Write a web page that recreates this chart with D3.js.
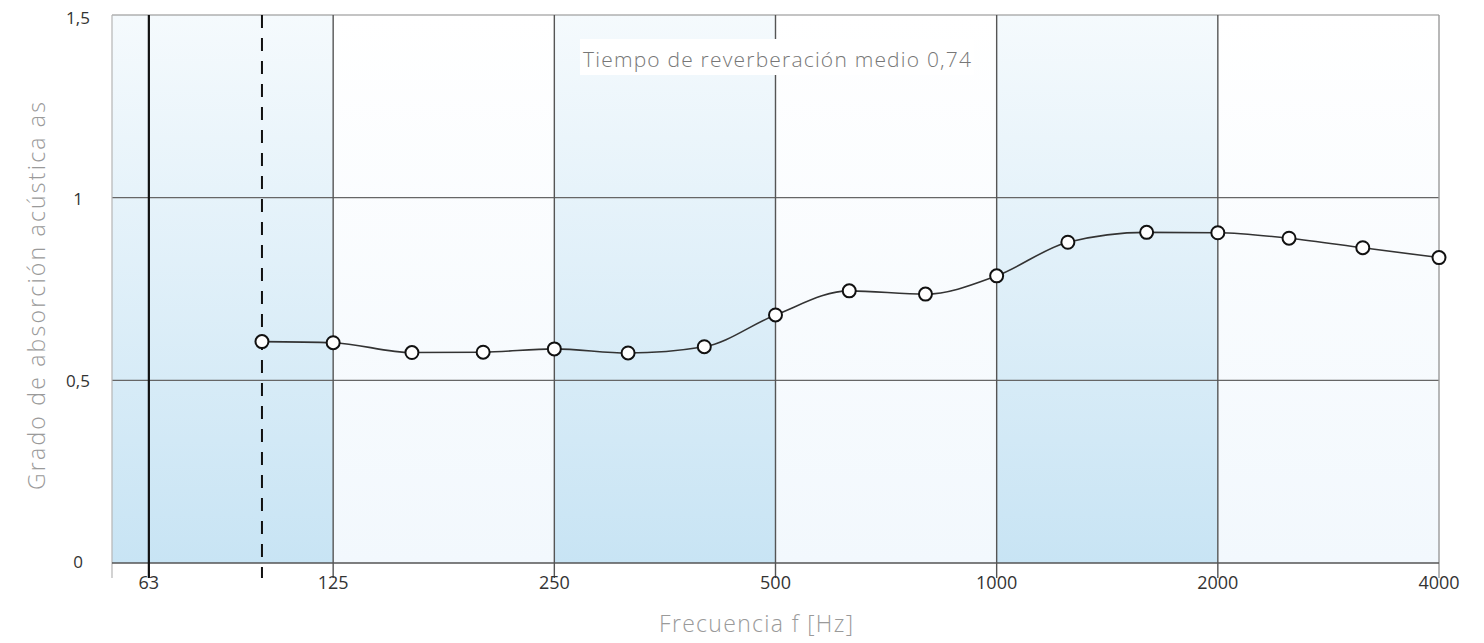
<!DOCTYPE html>
<html>
<head>
<meta charset="utf-8">
<script src="https://cdn.jsdelivr.net/npm/d3@7"></script>
<style>
  html, body { margin: 0; padding: 0; background: #ffffff; }
  svg { display: block; }
</style>
</head>
<body>
<svg id="chart" width="1484" height="643"></svg>
<script>
// Third-octave band centre frequencies (Hz) and measured absorption coefficients
const frequencies = [100, 125, 160, 200, 250, 315, 400, 500, 630, 800, 1000, 1250, 1600, 2000, 2500, 3150, 4000];
const absorption  = [0.606, 0.603, 0.576, 0.577, 0.586, 0.575, 0.592, 0.679, 0.745, 0.736, 0.786, 0.878, 0.905, 0.904, 0.889, 0.863, 0.836];

// Octave axis ticks and labels
const octaveTicks  = [125, 250, 500, 1000, 2000, 4000];
const octaveLabels = ["125", "250", "500", "1000", "2000", "4000"];
// The 63 Hz band marker sits half a third-octave inside the left edge
const lowMarker = { label: "63", freq: 62.5 * Math.pow(2, 1 / 6) };
const dashedMarkerFreq = 100;

const yTicks  = [0, 0.5, 1, 1.5];
const yLabels = ["0", "0,5", "1", "1,5"];

// Octave bands shaded alternately
const bands = [
  { from: 62.5, to: 125,  tint: "blue" },
  { from: 125,  to: 250,  tint: "pale" },
  { from: 250,  to: 500,  tint: "blue" },
  { from: 500,  to: 1000, tint: "pale" },
  { from: 1000, to: 2000, tint: "blue" },
  { from: 2000, to: 4000, tint: "pale" }
];

const annotation = "Tiempo de reverberación medio 0,74";
const xTitle = "Frecuencia f [Hz]";
const yTitle = "Grado de absorción acústica as";

const svg = d3.select("#chart");
const plotLeft = 112, plotRight = 1439, plotTop = 15, plotBottom = 563;
const tickLen = 15;

const x = d3.scaleLog().base(2).domain([62.5, 4000]).range([plotLeft, plotRight]);
const y = d3.scaleLinear().domain([0, 1.5]).range([plotBottom, plotTop]);

const defs = svg.append("defs");
const gBlue = defs.append("linearGradient").attr("id", "gradBlue")
  .attr("x1", 0).attr("y1", 0).attr("x2", 0).attr("y2", 1);
gBlue.append("stop").attr("offset", "0%").attr("stop-color", "#f5fafd");
gBlue.append("stop").attr("offset", "100%").attr("stop-color", "#c8e4f4");
const gPale = defs.append("linearGradient").attr("id", "gradPale")
  .attr("x1", 0).attr("y1", 0).attr("x2", 0).attr("y2", 1);
gPale.append("stop").attr("offset", "0%").attr("stop-color", "#ffffff");
gPale.append("stop").attr("offset", "100%").attr("stop-color", "#f2f8fd");

// Band backgrounds
svg.append("g").selectAll("rect").data(bands).join("rect")
  .attr("x", d => x(d.from))
  .attr("y", y(1.5))
  .attr("width", d => x(d.to) - x(d.from))
  .attr("height", y(0) - y(1.5))
  .attr("fill", d => d.tint === "blue" ? "url(#gradBlue)" : "url(#gradPale)");

// Horizontal grid lines
svg.append("g").selectAll("line").data(yTicks.filter(v => v > 0)).join("line")
  .attr("x1", plotLeft).attr("x2", plotRight)
  .attr("y1", d => y(d)).attr("y2", d => y(d))
  .attr("stroke", d => d === 1.5 ? "#8a8a8a" : "#666")
  .attr("stroke-width", 1.2);

// Left edge
svg.append("line")
  .attr("x1", x(62.5)).attr("x2", x(62.5))
  .attr("y1", y(1.5)).attr("y2", y(0) + tickLen)
  .attr("stroke", "#b5b5b5").attr("stroke-width", 1.2);

// Vertical octave grid lines with ticks
svg.append("g").selectAll("line").data(octaveTicks).join("line")
  .attr("x1", d => x(d)).attr("x2", d => x(d))
  .attr("y1", y(1.5)).attr("y2", y(0) + tickLen)
  .attr("stroke", d => d === 4000 ? "#9a9a9a" : "#555")
  .attr("stroke-width", 1.4);

// Bottom axis line
svg.append("line")
  .attr("x1", plotLeft).attr("x2", plotRight)
  .attr("y1", y(0)).attr("y2", y(0))
  .attr("stroke", "#555").attr("stroke-width", 1.4);

// 63 Hz marker
svg.append("line")
  .attr("x1", x(lowMarker.freq)).attr("x2", x(lowMarker.freq))
  .attr("y1", y(1.5)).attr("y2", y(0) + tickLen)
  .attr("stroke", "#111").attr("stroke-width", 2.2);

// Dashed 100 Hz marker
svg.append("line")
  .attr("x1", x(dashedMarkerFreq)).attr("x2", x(dashedMarkerFreq))
  .attr("y1", y(1.5)).attr("y2", y(0) + tickLen)
  .attr("stroke", "#111").attr("stroke-width", 2)
  .attr("stroke-dasharray", "13,10");

// X tick labels
const xLabelData = [{ label: lowMarker.label, freq: lowMarker.freq }]
  .concat(octaveTicks.map((f, i) => ({ label: octaveLabels[i], freq: f })));
svg.append("g").selectAll("text").data(xLabelData).join("text")
  .attr("x", d => x(d.freq))
  .attr("y", y(0) + 26)
  .attr("text-anchor", "middle")
  .attr("font-family", "'Open Sans', sans-serif")
  .attr("font-size", 18)
  .attr("fill", "#333")
  .text(d => d.label);

// Y tick labels
svg.append("g").selectAll("text").data(yTicks).join("text")
  .attr("x", 78)
  .attr("y", d => y(d) + 5 + 2.5 * d)
  .attr("text-anchor", "middle")
  .attr("font-family", "'Open Sans', sans-serif")
  .attr("font-size", 17)
  .attr("fill", "#333")
  .text((d, i) => yLabels[i]);

// Absorption curve
const pts = frequencies.map((f, i) => [f, absorption[i]]);
svg.append("path")
  .datum(pts)
  .attr("fill", "none")
  .attr("stroke", "#333")
  .attr("stroke-width", 1.6)
  .attr("d", d3.line().x(d => x(d[0])).y(d => y(d[1])).curve(d3.curveMonotoneX));

svg.append("g").selectAll("circle").data(pts).join("circle")
  .attr("cx", d => x(d[0])).attr("cy", d => y(d[1]))
  .attr("r", 6.5)
  .attr("fill", "#fff")
  .attr("stroke", "#111")
  .attr("stroke-width", 2);

// Annotation box
const ann = svg.append("g");
ann.append("rect")
  .attr("x", 580).attr("y", 39)
  .attr("width", 394).attr("height", 36)
  .attr("fill", "#fff");
ann.append("text")
  .attr("x", 583).attr("y", 67)
  .attr("font-family", "'Open Sans', sans-serif")
  .attr("font-weight", 300)
  .attr("font-size", 21)
  .attr("fill", "#777")
  .attr("textLength", 388)
  .attr("lengthAdjust", "spacing")
  .text(annotation);

// Axis titles
svg.append("text")
  .attr("x", 756).attr("y", 632)
  .attr("text-anchor", "middle")
  .attr("font-family", "'Open Sans', sans-serif")
  .attr("font-weight", 300)
  .attr("font-size", 23)
  .attr("fill", "#9a9a9a")
  .attr("textLength", 194)
  .attr("lengthAdjust", "spacing")
  .text(xTitle);

svg.append("text")
  .attr("transform", "translate(45,296) rotate(-90)")
  .attr("text-anchor", "middle")
  .attr("font-family", "'Open Sans', sans-serif")
  .attr("font-weight", 300)
  .attr("font-size", 23)
  .attr("fill", "#9a9a9a")
  .attr("textLength", 388)
  .attr("lengthAdjust", "spacing")
  .text(yTitle);
</script>
</body>
</html>
